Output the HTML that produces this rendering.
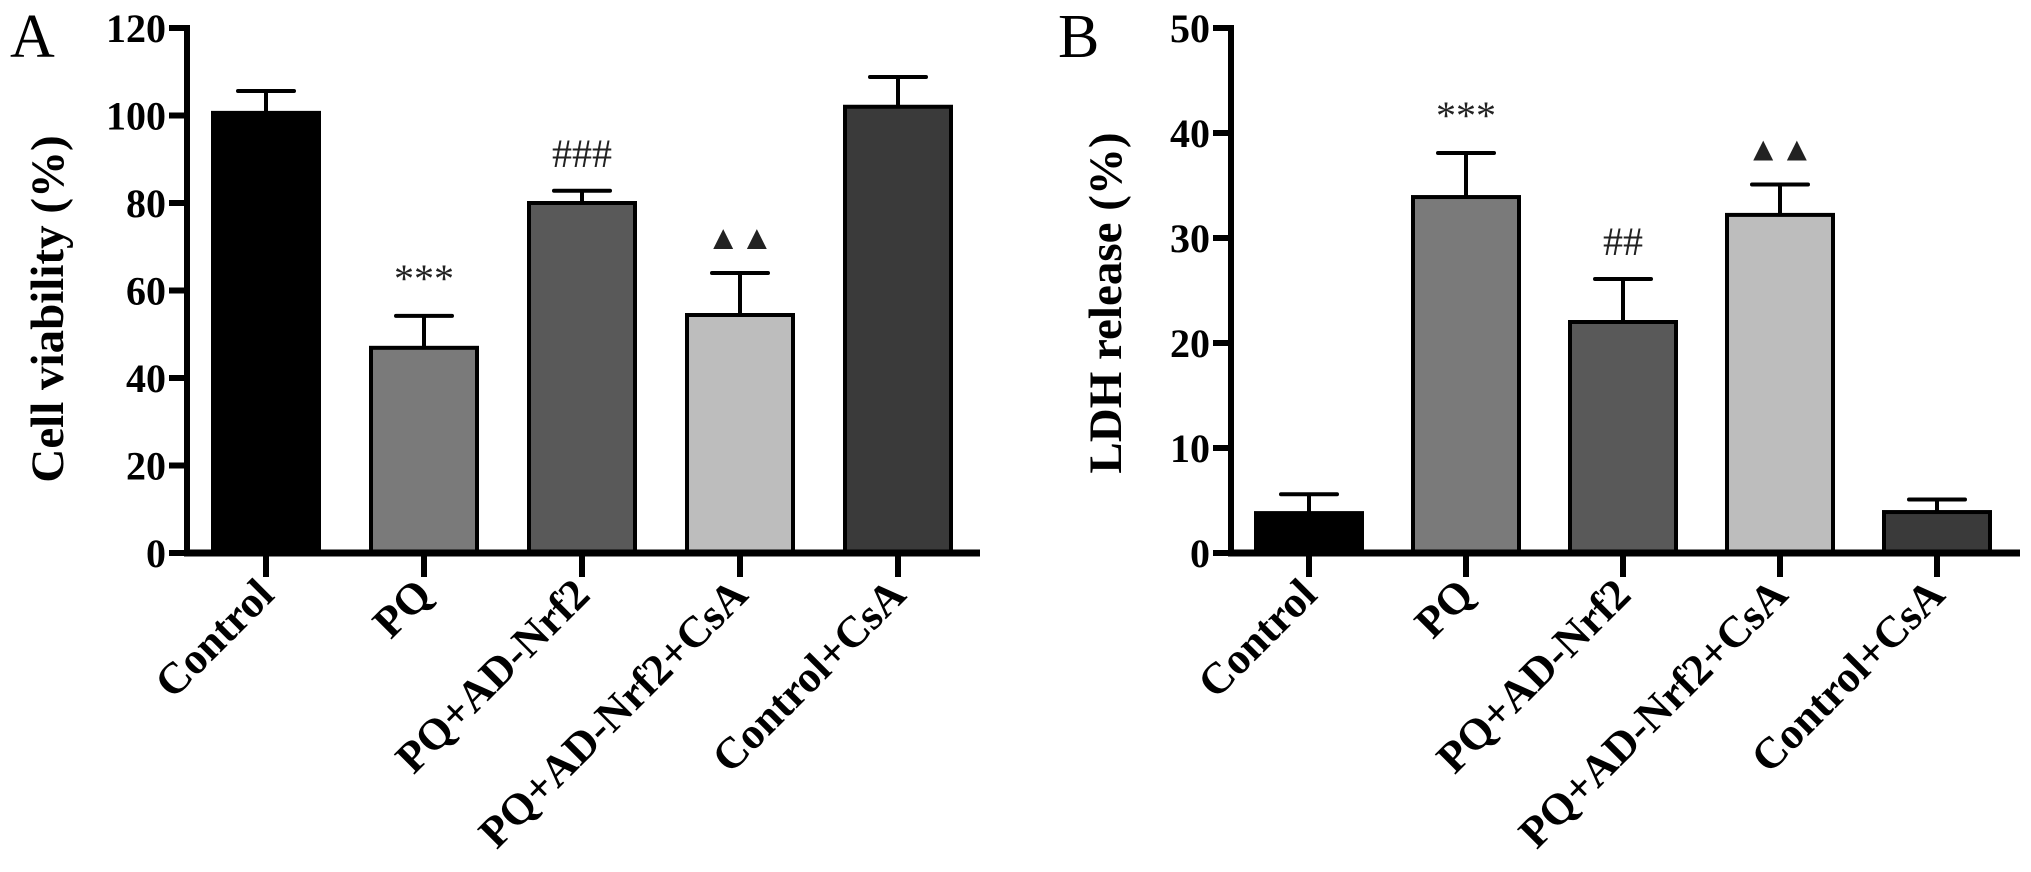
<!DOCTYPE html>
<html><head><meta charset="utf-8"><style>
html,body{margin:0;padding:0;background:#fff;}
svg{display:block;font-family:"Liberation Serif",serif;}
</style></head><body>
<svg id="fig" width="2031" height="872" viewBox="0 0 2031 872" xmlns="http://www.w3.org/2000/svg"></svg>
<script>
const categories = ["Control","PQ","PQ+AD-Nrf2","PQ+AD-Nrf2+CsA","Control+CsA"];
const colors = ["#000000","#7a7a7a","#595959","#bdbdbd","#3a3a3a"];
const viabilityMeans = [100.6, 46.9, 80.0, 54.4, 102.0];
const viabilityErrors = [5.0, 7.3, 2.8, 9.6, 6.8];
const viabilityMarks = ["", "***", "###", "▲▲", ""];
const viabilityTicks = [0,20,40,60,80,100,120];
const ldhMeans = [3.8, 33.9, 22.0, 32.2, 3.9];
const ldhErrors = [1.8, 4.2, 4.1, 2.9, 1.2];
const ldhMarks = ["", "***", "##", "▲▲", ""];
const ldhTicks = [0,10,20,30,40,50];

const NS="http://www.w3.org/2000/svg";
const svg=document.getElementById('fig');
function mk(tag,attrs,parent){const e=document.createElementNS(NS,tag);for(const k in attrs)e.setAttribute(k,attrs[k]);(parent||svg).appendChild(e);return e;}

function panel(cfg){
  const g=mk('g',{});
  
  
  const y0=553, yTop=28;
  const yScale=v=>y0-(v/cfg.max)*(y0-yTop);
  const xCenter=i=>cfg.firstCenter+i*cfg.step;
  // panel letter
  const L=mk('text',{x:cfg.letterX,y:57,'font-size':62},g);L.textContent=cfg.letter;
  
  
  // y title
  const t=mk('text',{x:cfg.titleX,y:cfg.titleY,'font-size':47,'font-weight':'bold','text-anchor':'middle',transform:`rotate(-90 ${cfg.titleX} ${cfg.titleY})`},g);
  t.textContent=cfg.title;
  
  
  // bars
  cfg.means.forEach((v,i)=>{
    const cx=xCenter(i), w=106, top=yScale(v), et=yScale(v+cfg.errors[i]);
    const eb=mk('line',{x1:cx,x2:cx,y1:top,y2:et,stroke:'#000','stroke-width':4},g);
    
    
    const cap=mk('line',{x1:cx-28,x2:cx+28,y1:et,y2:et,stroke:'#000','stroke-width':4,'stroke-linecap':'round'},g);
    
    
    const r=mk('rect',{x:cx-w/2,y:top,width:w,height:y0-top,fill:cfg.colors[i],stroke:'#000','stroke-width':4},g);
    
    
    if(cfg.marks[i]){
      const m=mk('text',{x:cx,y:et-24,'text-anchor':'middle','font-size':cfg.marks[i].startsWith('▲')?34:40,fill:'#222'},g);
      m.textContent=cfg.marks[i];
      
      
    }
    // x tick
    const tk=mk('line',{x1:cx,x2:cx,y1:y0,y2:y0+24,stroke:'#000','stroke-width':6},g);
    
    
    const lx=cx+10, ly=597;
    const lb=mk('text',{x:lx,y:ly,'font-size':44,'font-weight':'bold','text-anchor':'end',transform:`rotate(-45 ${lx} ${ly})`},g);
    lb.textContent=categories[i];
    
    
  });
  // axes
  const ya=mk('line',{x1:cfg.axisX,x2:cfg.axisX,y1:yTop-3,y2:y0+3,stroke:'#000','stroke-width':6},g);
  
  
  const xa=mk('line',{x1:cfg.axisX-3,x2:cfg.axisEnd,y1:y0,y2:y0,stroke:'#000','stroke-width':7},g);
  
  
  cfg.ticks.forEach(v=>{
    const y=yScale(v);
    const tl=mk('line',{x1:cfg.axisX-18,x2:cfg.axisX,y1:y,y2:y,stroke:'#000','stroke-width':6},g);
    
    
    const tx=mk('text',{x:cfg.axisX-21,y:y+14,'font-size':40,'font-weight':'bold','text-anchor':'end'},g);
    tx.textContent=v;
    
    
  });
}
panel({name:'panel-a-cell-viability',letter:'A',letterX:10,title:'Cell viability (%)',titleX:63,titleY:309,
  axisX:187,axisEnd:980,firstCenter:266,step:158,max:120,ticks:viabilityTicks,
  means:viabilityMeans,errors:viabilityErrors,marks:viabilityMarks,colors:colors});
panel({name:'panel-b-ldh-release',letter:'B',letterX:1058,title:'LDH release (%)',titleX:1121,titleY:303,
  axisX:1231,axisEnd:2020,firstCenter:1309,step:157,max:50,ticks:ldhTicks,
  means:ldhMeans,errors:ldhErrors,marks:ldhMarks,colors:colors});
</script>
</body></html>
